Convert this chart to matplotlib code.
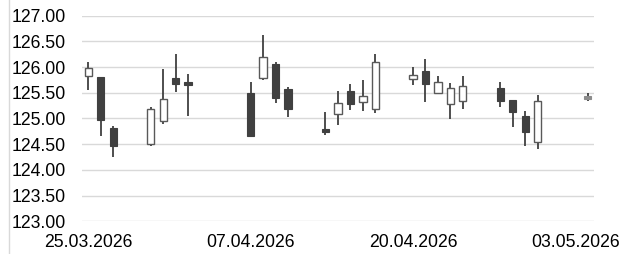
import matplotlib
matplotlib.use('Agg')
import matplotlib.pyplot as plt
import matplotlib.dates as mdates
from matplotlib.lines import Line2D
import pandas as pd

# candle data
dates = ['2026-03-25', '2026-03-26', '2026-03-27', '2026-03-30', '2026-03-31',
         '2026-04-01', '2026-04-02', '2026-04-07', '2026-04-08', '2026-04-09',
         '2026-04-10', '2026-04-13', '2026-04-14', '2026-04-15', '2026-04-16',
         '2026-04-17', '2026-04-20', '2026-04-21', '2026-04-22', '2026-04-23',
         '2026-04-24', '2026-04-27', '2026-04-28', '2026-04-29', '2026-04-30',
         '2026-05-04']
opens = [125.82, 125.80, 124.82, 124.50, 124.95, 125.79, 125.71, 125.49, 125.78, 126.07,
         125.57, 124.80, 125.08, 125.54, 125.32, 125.19, 125.77, 125.92, 125.50, 125.29,
         125.35, 125.59, 125.36, 125.05, 124.55, 125.38]
highs = [126.10, 125.80, 124.85, 125.23, 125.96, 126.25, 125.87, 125.72, 126.62, 126.09,
         125.61, 125.12, 125.54, 125.67, 125.74, 126.25, 126.00, 126.16, 125.83, 125.70,
         125.83, 125.71, 125.36, 125.15, 125.45, 125.50]
lows = [125.55, 124.66, 124.25, 124.47, 124.89, 125.51, 125.04, 124.65, 125.74, 125.31,
        125.02, 124.68, 124.87, 125.17, 125.14, 125.11, 125.66, 125.33, 125.48, 124.99,
        125.19, 125.22, 124.84, 124.47, 124.40, 125.34]
closes = [125.98, 124.97, 124.47, 125.18, 125.38, 125.68, 125.65, 124.66, 126.20, 125.40,
          125.19, 124.74, 125.31, 125.28, 125.43, 126.09, 125.85, 125.67, 125.71, 125.59,
          125.63, 125.34, 125.12, 124.74, 125.35, 125.44]
tick_dates = ['2026-03-25', '2026-04-07', '2026-04-20', '2026-05-03']

df = pd.DataFrame({'Date': pd.to_datetime(dates), 'Open': opens, 'High': highs,
                   'Low': lows, 'Close': closes})
df['x'] = mdates.date2num(df['Date'])

plt.rcParams['font.family'] = ['Liberation Sans', 'DejaVu Sans']

fig = plt.figure(figsize=(6.21, 2.54), dpi=100)
ax = fig.add_axes([0.132, 0.129, 0.8245, 0.809])

up = df['Close'] >= df['Open']
down = ~up
last = df.index == df.index[-1]

ax.vlines(df['x'], df['Low'], df['High'], color='#404040', linewidth=1.3, zorder=2)
ax.bar(df.loc[down, 'x'], df.loc[down, 'Close'] - df.loc[down, 'Open'],
       bottom=df.loc[down, 'Open'], width=0.58, color='#404040',
       edgecolor='#404040', linewidth=0.8, zorder=3)
upn = up & ~last
ax.bar(df.loc[upn, 'x'], df.loc[upn, 'Close'] - df.loc[upn, 'Open'],
       bottom=df.loc[upn, 'Open'], width=0.58, color='white',
       edgecolor='#595959', linewidth=1.0, zorder=3)
ax.bar(df.loc[last, 'x'], df.loc[last, 'Close'] - df.loc[last, 'Open'],
       bottom=df.loc[last, 'Open'], width=0.58, color='#8c8c8c',
       edgecolor='#8c8c8c', linewidth=0.8, zorder=3)

x0 = mdates.date2num(pd.Timestamp('2026-03-25'))
ax.set_xlim(x0 - 0.5, x0 + 40.5)
ax.set_ylim(123, 127)
ax.set_yticks([123 + 0.5 * i for i in range(9)])
ax.set_yticklabels(['%.2f' % (123 + 0.5 * i) for i in range(9)])
ax.set_xticks(mdates.date2num(pd.to_datetime(tick_dates)))
ax.xaxis.set_major_formatter(mdates.DateFormatter('%d.%m.%Y'))

ax.grid(axis='y', color='#d9d9d9', linewidth=1.0)
ax.set_axisbelow(True)
for s in ax.spines.values():
    s.set_visible(False)
ax.tick_params(axis='both', length=0, labelsize=12.7, colors='black')
ax.tick_params(axis='y', pad=11.5)
ax.tick_params(axis='x', pad=9)

fig.add_artist(Line2D([8.5 / 621, 8.5 / 621], [0, 1], color='#d9d9d9', linewidth=1.0))

fig.savefig('out.png', dpi=100)
